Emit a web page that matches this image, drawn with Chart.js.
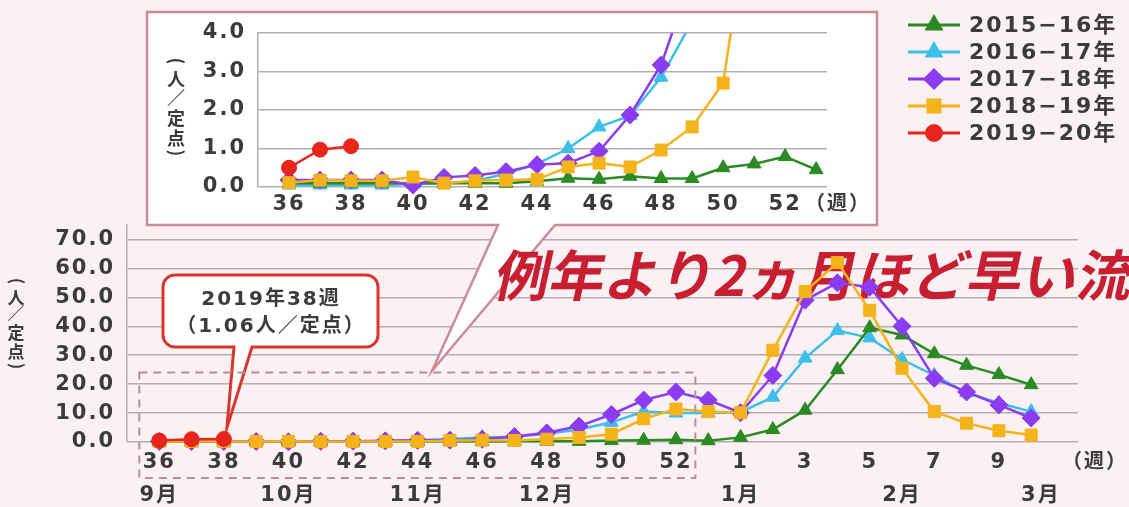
<!DOCTYPE html>
<html lang="ja">
<head>
<meta charset="utf-8">
<script src="https://cdn.jsdelivr.net/npm/chart.js@4.4.1/dist/chart.umd.min.js"></script>
<style>
  html, body { margin: 0; padding: 0; background: #fbf1f2; }
  #wrap { position: relative; width: 1129px; height: 507px; overflow: hidden; }
  #wrap canvas { position: absolute; left: 0; top: 0; }
</style>
</head>
<body>
<div id="wrap">
  <canvas id="mainChart" width="1129" height="507"></canvas>
  <canvas id="insetChart" width="1129" height="507"></canvas>
</div>
<script>
// Weeks: 36 .. 53, then 1 .. 10 of the next year
const weeks = [36, 37, 38, 39, 40, 41, 42, 43, 44, 45, 46, 47, 48, 49, 50, 51, 52, 53, 1, 2, 3, 4, 5, 6, 7, 8, 9, 10];
const seasons = ['2015−16年', '2016−17年', '2017−18年', '2018−19年', '2019−20年'];

// 定点当たり報告数 (人/定点)
const s2015 = [0.1, 0.1, 0.1, 0.1, 0.1, 0.1, 0.1, 0.1, 0.15, 0.23, 0.2, 0.28, 0.22, 0.22, 0.5, 0.6, 0.79, 0.45, 1.6, 4.3, 11, 25, 39.5, 37, 30.5, 26.5, 23.3, 19.8];
const s2016 = [0.05, 0.05, 0.05, 0.05, 0.08, 0.1, 0.15, 0.35, 0.6, 1.0, 1.56, 1.85, 2.85, 4.3, 6.8, 10.5, 10, 10, 10.3, 15.5, 29, 38.5, 36, 28.5, 23, 17, 13.5, 10.5];
const s2017 = [0.18, 0.18, 0.18, 0.18, 0.05, 0.25, 0.3, 0.4, 0.58, 0.62, 0.93, 1.87, 3.17, 5.5, 9.5, 14.5, 17.3, 14.5, 10.1, 23, 49, 55, 53.5, 40, 22, 17.3, 12.8, 8.3];
const s2018 = [0.11, 0.18, 0.16, 0.16, 0.26, 0.1, 0.16, 0.18, 0.2, 0.52, 0.62, 0.52, 0.96, 1.56, 2.7, 8, 11.4, 10.5, 10.1, 31.7, 52, 62, 45.5, 25.5, 10.5, 6.5, 3.9, 2.4];
const s2019 = [0.5, 0.97, 1.06];
const seriesValues = [s2015, s2016, s2017, s2018, s2019];

// Month labels under the week axis (positions in week index)
const monthLabels = ['9月', '10月', '11月', '12月', '1月', '2月', '3月'];
const monthPos = [0, 4, 8, 12, 18, 23, 27.3];

const mainTicks = [0, 10, 20, 30, 40, 50, 60, 70];
const insetTicks = [0, 1, 2, 3, 4];

const FONT = "'DejaVu Sans', 'Noto Sans CJK JP', sans-serif";
const JP = "'Noto Sans CJK JP', sans-serif";
const TEXT = '#3b3b3b';
const GRID = '#b3afb0';

const styles = [
  { color: '#2b8a24', pointStyle: 'triangle', radius: 8, order: 3 },
  { color: '#3cbfe8', pointStyle: 'triangle', radius: 8, order: 4 },
  { color: '#8c3cf0', pointStyle: 'rectRot', radius: 9, order: 2 },
  { color: '#f4b31b', pointStyle: 'rect', radius: 8.5, order: 1 },
  { color: '#e8251c', pointStyle: 'circle', radius: 7.5, order: 0 }
];

function buildDatasets(count, clip) {
  return seriesValues.map((vals, k) => ({
    label: seasons[k],
    data: vals.slice(0, count).map((v, i) => ({ x: i, y: v })),
    borderColor: styles[k].color,
    backgroundColor: styles[k].color,
    pointBackgroundColor: styles[k].color,
    pointBorderColor: styles[k].color,
    pointBorderWidth: 1,
    pointStyle: styles[k].pointStyle,
    pointRadius: styles[k].radius,
    borderWidth: 2.5,
    tension: 0,
    order: styles[k].order,
    clip: clip
  }));
}

// vertical axis title; brackets are turned 90 degrees like vertical type
function drawVertical(ctx, chars, x, ys, size) {
  ctx.font = 'bold ' + size + 'px ' + JP;
  ctx.fillStyle = TEXT;
  ctx.textAlign = 'center';
  ctx.textBaseline = 'middle';
  chars.forEach((c, i) => {
    if (c === '(' || c === ')') {
      ctx.save();
      ctx.translate(x, ys[i]);
      ctx.rotate(Math.PI / 2);
      ctx.fillText(c, 0, 0);
      ctx.restore();
    } else {
      ctx.fillText(c, x, ys[i]);
    }
  });
}

const yTitle = ['(', '人', '／', '定', '点', ')'];

// Main chart decorations
const mainDecor = {
  id: 'mainDecor',
  beforeDraw(chart) {
    chart.ctx.letterSpacing = '2px';
  },
  beforeDatasetsDraw(chart) {
    const ctx = chart.ctx;
    const x = chart.scales.x, y = chart.scales.y;
    ctx.save();

    // inset frame with pointer down to the dashed area
    const tipX = x.getPixelForValue(8.45);
    const tipY = y.getPixelForValue(24) - 2;
    ctx.beginPath();
    ctx.moveTo(147, 12);
    ctx.lineTo(877, 12);
    ctx.lineTo(877, 225);
    ctx.lineTo(555, 225);
    ctx.lineTo(tipX, tipY);
    ctx.lineTo(498, 225);
    ctx.lineTo(147, 225);
    ctx.closePath();
    ctx.fillStyle = '#ffffff';
    ctx.fill();
    ctx.lineWidth = 2.5;
    ctx.strokeStyle = '#cc8b9d';
    ctx.stroke();

    // callout box for 2019 week 38
    const px = x.getPixelForValue(2) + 3;
    const py = y.getPixelForValue(s2019[2]) - 11;
    const bx0 = 163, bx1 = 378, by0 = 275, by1 = 347, r = 12;
    ctx.beginPath();
    ctx.moveTo(bx0 + r, by0);
    ctx.lineTo(bx1 - r, by0);
    ctx.arcTo(bx1, by0, bx1, by0 + r, r);
    ctx.lineTo(bx1, by1 - r);
    ctx.arcTo(bx1, by1, bx1 - r, by1, r);
    ctx.lineTo(252, by1);
    ctx.lineTo(px, py);
    ctx.lineTo(234, by1);
    ctx.lineTo(bx0 + r, by1);
    ctx.arcTo(bx0, by1, bx0, by1 - r, r);
    ctx.lineTo(bx0, by0 + r);
    ctx.arcTo(bx0, by0, bx0 + r, by0, r);
    ctx.closePath();
    ctx.fillStyle = '#ffffff';
    ctx.fill();
    ctx.lineWidth = 3;
    ctx.strokeStyle = '#d8372f';
    ctx.stroke();

    ctx.fillStyle = TEXT;
    ctx.font = 'bold 20px ' + FONT;
    ctx.textAlign = 'center';
    ctx.textBaseline = 'middle';
    ctx.fillText('2019年38週', 271, 300);
    ctx.fillText('（1.06人／定点）', 271, 327);

    // red italic message
    ctx.letterSpacing = '0px';
    const y0 = 296;
    ctx.setTransform(1, 0, -0.22, 1, 0.22 * y0, 0);
    ctx.font = 'bold 55px ' + JP;
    ctx.fillStyle = '#c81e32';
    ctx.textAlign = 'left';
    ctx.textBaseline = 'alphabetic';
    ctx.fillText('例年より2ヵ月ほど早い流行', 492, y0);
    ctx.restore();
  },
  afterDraw(chart) {
    const ctx = chart.ctx;
    const x = chart.scales.x, y = chart.scales.y;
    ctx.save();

    // dashed box marking the inset range
    ctx.setLineDash([8, 6]);
    ctx.lineWidth = 2;
    ctx.strokeStyle = '#b98e9f';
    const dx0 = x.getPixelForValue(-0.62), dx1 = x.getPixelForValue(16.6);
    const dy0 = y.getPixelForValue(24), dy1 = y.bottom + 36;
    ctx.strokeRect(dx0, dy0, dx1 - dx0, dy1 - dy0);
    ctx.setLineDash([]);

    // legend
    const rowY = [25, 52, 79, 106, 133];
    chart.data.datasets.forEach((ds, i) => {
      const ly = rowY[i];
      ctx.strokeStyle = ds.borderColor;
      ctx.fillStyle = ds.borderColor;
      ctx.lineWidth = 3;
      ctx.beginPath();
      ctx.moveTo(908, ly);
      ctx.lineTo(960, ly);
      ctx.stroke();
      Chart.helpers.drawPoint(ctx, { pointStyle: ds.pointStyle, radius: ds.pointRadius, rotation: 0, borderWidth: 1 }, 934, ly);
      ctx.fillStyle = TEXT;
      ctx.font = 'bold 22px ' + FONT;
      ctx.textAlign = 'left';
      ctx.textBaseline = 'middle';
      ctx.fillText(ds.label, 969, ly + 1);
    });

    // axis titles
    drawVertical(ctx, yTitle, 17, [282, 298, 314, 333, 352, 367], 17);
    ctx.font = 'bold 20px ' + FONT;
    ctx.fillStyle = TEXT;
    ctx.textAlign = 'center';
    ctx.textBaseline = 'middle';
    ctx.fillText('（週）', 1095, 463);
    ctx.restore();
  }
};

const insetDecor = {
  id: 'insetDecor',
  beforeDraw(chart) {
    chart.ctx.letterSpacing = '2px';
  },
  afterDraw(chart) {
    const ctx = chart.ctx;
    ctx.save();
    drawVertical(ctx, yTitle, 177, [62, 79, 97, 118, 138, 154], 18);
    ctx.font = 'bold 20px ' + FONT;
    ctx.fillStyle = TEXT;
    ctx.textAlign = 'center';
    ctx.textBaseline = 'middle';
    ctx.fillText('（週）', 838, 205);
    ctx.restore();
  }
};

const tickFont = { family: FONT, size: 21, weight: 'bold' };

// Main chart
new Chart(document.getElementById('mainChart'), {
  type: 'line',
  data: { datasets: buildDatasets(weeks.length, false) },
  options: {
    responsive: false,
    animation: false,
    layout: { padding: { left: 0, top: 225, right: 51, bottom: 0 } },
    plugins: { legend: { display: false }, tooltip: { enabled: false } },
    scales: {
      x: {
        type: 'linear',
        position: 'bottom',
        weight: 0,
        min: -1,
        max: 28.45,
        afterFit: (s) => { s.height = 30; },
        grid: { display: false, drawTicks: false },
        border: { display: false },
        ticks: {
          stepSize: 1,
          autoSkip: false,
          maxRotation: 0,
          minRotation: 0,
          padding: 8,
          color: TEXT,
          font: tickFont,
          callback: (v) => (Number.isInteger(v) && v >= 0 && v <= 26 && v % 2 === 0) ? String(weeks[v]) : ''
        }
      },
      xm: {
        type: 'linear',
        position: 'bottom',
        weight: 1,
        min: -1,
        max: 28.45,
        afterFit: (s) => { s.height = 35; },
        afterBuildTicks: (s) => { s.ticks = monthPos.map(v => ({ value: v })); },
        grid: { display: false, drawTicks: false },
        border: { display: false },
        ticks: {
          autoSkip: false,
          maxRotation: 0,
          minRotation: 0,
          padding: 11,
          color: TEXT,
          font: tickFont,
          callback: (v, i) => monthLabels[i]
        }
      },
      y: {
        min: 0,
        max: 75,
        afterFit: (s) => { s.width = 127; },
        afterBuildTicks: (s) => { s.ticks = mainTicks.map(v => ({ value: v })); },
        grid: { color: GRID, lineWidth: 1.5, drawTicks: false },
        border: { display: true, color: GRID, width: 1.5 },
        ticks: {
          padding: 12,
          color: TEXT,
          font: tickFont,
          callback: (v) => v.toFixed(1)
        }
      }
    }
  },
  plugins: [mainDecor]
});

// Inset chart (zoomed 0-4)
new Chart(document.getElementById('insetChart'), {
  type: 'line',
  data: { datasets: buildDatasets(18, { left: 10, right: 0, top: 0, bottom: 20 }) },
  options: {
    responsive: false,
    animation: false,
    layout: { padding: { left: 0, top: 33, right: 302, bottom: 290 } },
    plugins: { legend: { display: false }, tooltip: { enabled: false } },
    scales: {
      x: {
        type: 'linear',
        min: -1,
        max: 17.35,
        afterFit: (s) => { s.height = 30; },
        grid: { display: false, drawTicks: false },
        border: { display: false },
        ticks: {
          stepSize: 1,
          autoSkip: false,
          maxRotation: 0,
          minRotation: 0,
          padding: 5,
          color: TEXT,
          font: tickFont,
          callback: (v) => (Number.isInteger(v) && v >= 0 && v <= 16 && v % 2 === 0) ? String(weeks[v]) : ''
        }
      },
      y: {
        min: 0,
        max: 4,
        afterFit: (s) => { s.width = 258; },
        afterBuildTicks: (s) => { s.ticks = insetTicks.map(v => ({ value: v })); },
        grid: { color: GRID, lineWidth: 1.5, drawTicks: false },
        border: { display: true, color: GRID, width: 1.5 },
        ticks: {
          padding: 12,
          color: TEXT,
          font: tickFont,
          callback: (v) => v.toFixed(1)
        }
      }
    }
  },
  plugins: [insetDecor]
});
</script>
</body>
</html>
